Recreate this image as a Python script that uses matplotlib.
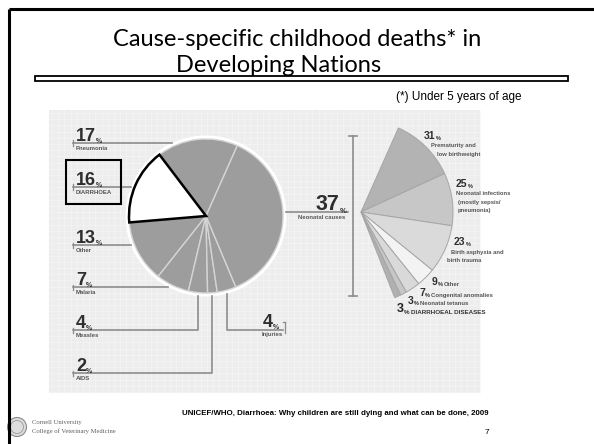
import matplotlib
matplotlib.use("Agg")
import matplotlib.pyplot as plt
from matplotlib.patches import Rectangle, Circle
import numpy as np

# ---- data -------------------------------------------------------------
# Global distribution of deaths among children under five (%)
causes = ["Pneumonia", "DIARRHOEA", "Other", "Malaria", "Measles", "AIDS",
          "Injuries", "Neonatal causes"]
shares = [17, 16, 13, 7, 4, 2, 4, 37]

# Breakdown of the neonatal share (%)
neonatal_causes = ["Prematurity and\nlow birthweight",
                   "Neonatal infections\n(mostly sepsis/\npneumonia)",
                   "Birth asphyxia and\nbirth trauma",
                   "Other", "Congenital anomalies", "Neonatal tetanus",
                   "DIARRHOEAL DISEASES"]
neonatal_shares = [31, 25, 23, 9, 7, 3, 3]

title_lines = ["Cause-specific childhood deaths* in", "Developing Nations"]
footnote = "(*) Under 5 years of age"
source = "UNICEF/WHO, Diarrhoea: Why children are still dying and what can be done, 2009"
slide_no = "7"
institution = ["Cornell University", "College of Veterinary Medicine"]

# ---- canvas (pixel-like coordinates, y grows downward) -----------------
W, H = 594, 444
fig = plt.figure(figsize=(W / 100, H / 100), dpi=100)
fig.patch.set_facecolor("white")
ax = fig.add_axes([0, 0, 1, 1])

SANS = "Liberation Sans"
NUM_C = "#2e2e2e"
LBL_C = "#555555"
LINE_C = "#8c8c8c"

# slide frame
ax.plot([8.5, 8.5], [H, 9], color="black", lw=2.2, solid_capstyle="butt", zorder=5)
ax.plot([8.5, W], [9, 9], color="black", lw=2.2, solid_capstyle="butt", zorder=5)

# title and rule under it
ax.text(297, 46, title_lines[0], ha="center", va="baseline", fontsize=17,
        family="Lato", color="black", zorder=6)
ax.text(279, 72, title_lines[1], ha="center", va="baseline", fontsize=17,
        family="Lato", color="black", zorder=6)
ax.add_patch(Rectangle((35, 76), 533, 5, fc="white", ec="black", lw=1.3, zorder=4))
ax.text(522, 97, footnote, ha="right", va="center", fontsize=8.5, family=SANS)

# graphic panel with faint grid
px0, py0, px1, py1 = 49, 110, 480, 393
ax.add_patch(Rectangle((px0, py0), px1 - px0, py1 - py0, fc="#ededed", ec="none", zorder=0))
ax.vlines(np.arange(px0 + 3, px1, 6.2), py0, py1, color="#f5f5f5", lw=0.5, zorder=0.1)
ax.hlines(np.arange(py0 + 3, py1, 6.2), px0, px1, color="#f5f5f5", lw=0.5, zorder=0.1)

# ---- main pie ---------------------------------------------------------
cx, cy, r = 206, 216, 77
start = 66
ring = r + 3.5
ax.add_patch(Circle((cx, cy), ring, fc="white", ec="none", zorder=1))
pie_colors = ["#9d9d9d"] * len(shares)
pie_colors[1] = "white"
wedges, _ = ax.pie(shares, colors=pie_colors, startangle=-start, counterclock=False,
                   center=(cx, cy), radius=r,
                   wedgeprops=dict(edgecolor="#d4d4d4", linewidth=1.0))
for w in wedges:
    w.set_zorder(2)
wedges[1].set_edgecolor("black")
wedges[1].set_linewidth(1.8)
wedges[1].set_zorder(3)

# visual mid-angle of each slice (counter-clockwise from east)
bounds = start + np.concatenate([[0], np.cumsum(shares)]) / sum(shares) * 360
mids = np.deg2rad((bounds[:-1] + bounds[1:]) / 2)


def left_edge(y):
    return cx - np.sqrt(ring ** 2 - (y - cy) ** 2)


def bottom_edge(x):
    return cy + np.sqrt(ring ** 2 - (x - cx) ** 2)


def value_label(x, y, value, size, pct_size, color=NUM_C, after=None,
                after_size=5, after_color=LBL_C):
    t = ax.text(x, y, str(value), fontsize=size, weight="bold", family=SANS,
                color=color, va="baseline", ha="left", zorder=6)
    p = ax.annotate("%", xy=(1, 0), xycoords=t, xytext=(0, 0),
                    textcoords="offset points", fontsize=pct_size, weight="bold",
                    family=SANS, color=color, va="bottom", ha="left", zorder=6)
    if after:
        ax.annotate(after, xy=(1, 0), xycoords=p, xytext=(1.0, 0),
                    textcoords="offset points", fontsize=after_size, weight="bold",
                    family=SANS, color=after_color, va="bottom", ha="left", zorder=6)
    return t


# left-hand labels: leader y positions
lead_y = [143, 187, 245, 287, 330, 373]
x0 = 73
for i, y in enumerate(lead_y):
    value_label(x0 + 3, y - 2, shares[i], 13, 5)
    ax.text(x0 + 3, y + 5.5, causes[i], fontsize=4.3, weight="bold", family=SANS,
            color=LBL_C, va="center", ha="left", zorder=6)
    ax.plot([x0, x0], [y - 2.5, y + 3], color=LINE_C, lw=0.9, zorder=1)
    if i < 4:
        ax.plot([x0, left_edge(y)], [y, y], color=LINE_C, lw=1.2, zorder=1)
    else:
        xa = cx + r * np.cos(mids[i])
        ax.plot([x0, xa, xa], [y, y, bottom_edge(xa)], color=LINE_C, lw=1.2, zorder=1)

# diarrhoea highlight box
ax.add_patch(Rectangle((66, 160), 55, 44, fill=False, ec="black", lw=1.5, zorder=6))

# injuries leader (to the right, below the pie)
xi = cx + r * np.cos(mids[6])
ax.plot([xi, xi, 283], [bottom_edge(xi), 330, 330], color=LINE_C, lw=1.2, zorder=1)
ax.plot([285, 285], [322, 333], color=LINE_C, lw=0.9, zorder=1)
ax.plot([283, 285], [322, 322], color=LINE_C, lw=0.9, zorder=1)
value_label(263, 327, shares[6], 13, 5)
ax.text(262, 334.5, causes[6], fontsize=4.3, weight="bold", family=SANS,
        color=LBL_C, va="center", ha="left", zorder=6)

# neonatal leader, value and bracket
ny = 212
ax.plot([cx + np.sqrt(ring ** 2 - (ny - cy) ** 2), 348], [ny, ny], color=LINE_C, lw=1.2, zorder=1)
value_label(316, 210, shares[7], 15.5, 5.5)
ax.text(322, 217.5, causes[7], fontsize=4.3, weight="bold", family=SANS,
        color=LBL_C, va="center", ha="center", zorder=6)
bx = 353
ax.plot([bx, bx], [136, 296], color=LINE_C, lw=1.2, zorder=1)
ax.plot([bx - 4, bx + 4], [136, 136], color=LINE_C, lw=1.2, zorder=1)
ax.plot([bx - 4, bx + 4], [296, 296], color=LINE_C, lw=1.2, zorder=1)

# ---- neonatal fan (same angular span as the neonatal slice) ------------
fx, fy, fr = 361, 212, 92
fan_colors = ["#b3b3b3", "#c7c7c7", "#dadada", "#f3f3f3", "#d9d9d9", "#c6c6c6", "#b0b0b0"]
fan_frac = np.array(neonatal_shares) / 100 * shares[7] / sum(shares)
fan, _ = ax.pie(fan_frac, normalize=False, colors=fan_colors, startangle=-start,
                counterclock=True, center=(fx, fy), radius=fr,
                wedgeprops=dict(edgecolor="#a6a6a6", linewidth=0.7))
for w in fan:
    w.set_zorder(2)

# multi-line fan labels
multi_layout = [
    ((424, 139), [(431, 145), (437, 154)]),
    ((456, 187), [(456, 193.5), (458, 202), (458, 210.5)]),
    ((454, 245), [(451, 252), (447, 260.5)]),
]
for k, ((nx, nyv), lines) in enumerate(multi_layout):
    value_label(nx, nyv, neonatal_shares[k], 7.5, 4)
    for (lx, ly), txt in zip(lines, neonatal_causes[k].split("\n")):
        ax.text(lx, ly, txt, fontsize=4.2, weight="bold", family=SANS,
                color=LBL_C, va="center", ha="left", zorder=6)

# single-line fan labels
single_layout = [(432, 285), (419, 296), (408, 304)]
for k, (lx, ly) in zip(range(3, 6), single_layout):
    value_label(lx, ly, neonatal_shares[k], 7.5, 4, after=neonatal_causes[k],
                after_size=4.3)
value_label(397, 311.5, neonatal_shares[6], 9, 4.5, color="#222222",
            after=neonatal_causes[6], after_size=4.5, after_color="#333333")

# ---- footer ------------------------------------------------------------
ax.text(488, 413, source, ha="right", va="center", fontsize=5.7, weight="bold", family=SANS)
ax.text(487, 432, slide_no, ha="center", va="center", fontsize=6, family=SANS)
ax.add_patch(Circle((17, 427), 9.5, fc="#dedede", ec="#8a8a8a", lw=0.8, zorder=3))
ax.add_patch(Circle((17, 427), 6.5, fc="none", ec="#9a9a9a", lw=0.6, zorder=3))
ax.text(32, 422.5, institution[0], fontsize=4.8, family="Liberation Serif",
        color="#606060", va="center", ha="left")
ax.text(32, 431, institution[1], fontsize=4.8, family="Liberation Serif",
        color="#606060", va="center", ha="left")

ax.set_xlim(0, W)
ax.set_ylim(H, 0)
ax.set_aspect("auto")
ax.axis("off")
fig.savefig("out.png", dpi=100, facecolor="white")
